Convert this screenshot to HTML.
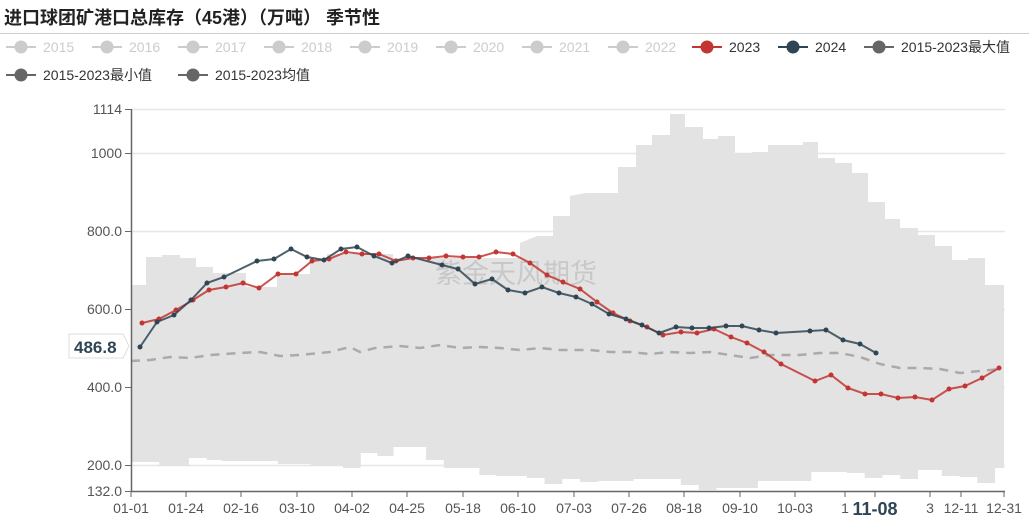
<!DOCTYPE html>
<html><head><meta charset="utf-8"><style>
body{margin:0;background:#fff;width:1029px;height:517px;overflow:hidden;font-family:"Liberation Sans","Noto Sans CJK SC",sans-serif}
</style></head><body>
<svg id="s" width="1029" height="517" xmlns="http://www.w3.org/2000/svg" style="position:absolute;left:0;top:0">
<text x="4" y="24" font-size="18" font-weight="bold" fill="#222" font-family="Liberation Sans, Noto Sans CJK SC, sans-serif">进口球团矿港口总库存（45港）（万吨） 季节性</text>
<line x1="0" y1="33.5" x2="1029" y2="33.5" stroke="#ccc"/>
<g id="leg" font-size="14" font-family="Liberation Sans, Noto Sans CJK SC, sans-serif"></g>
<g id="grid"></g>
<polygon id="band" fill="#e3e3e3"/>
<text x="435" y="283" font-size="27" fill="#c8c8c8" font-family="Liberation Sans, Noto Sans CJK SC, sans-serif">紫金天风期货</text>
<polyline id="mean" fill="none" stroke="#aaa" stroke-width="2.5" stroke-dasharray="9,7"/>
<g id="lines"></g>
<line x1="131.5" y1="109" x2="131.5" y2="491" stroke="#666" stroke-width="1.5"/>
<line x1="131" y1="491.5" x2="1005" y2="491.5" stroke="#666" stroke-width="1.5"/>
<g id="ax" font-size="14" fill="#555" font-family="Liberation Sans, sans-serif"></g>
<path d="M69,334 H123 L129,346 L123,358 H69 Z" fill="#fff" stroke="#ddd"/>
<text x="74" y="353" font-size="17" font-weight="bold" fill="#2f4554">486.8</text>
</svg>
<script>
const NS="http://www.w3.org/2000/svg";
function el(p,t,a,txt){const e=document.createElementNS(NS,t);for(const k in a)e.setAttribute(k,a[k]);if(txt)e.textContent=txt;p.appendChild(e);return e}
const g=document.getElementById('grid'),ax=document.getElementById('ax');
[[109,'1114'],[153,'1000'],[231,'800.0'],[309,'600.0'],[387,'400.0'],[465,'200.0'],[491,'132.0']].forEach(([y,t])=>{
 if(y<491)el(g,'line',{x1:131,y1:y+.5,x2:1005,y2:y+.5,stroke:'#e6e6e6','stroke-width':1.5});
 el(ax,'line',{x1:125,y1:y+.5,x2:131,y2:y+.5,stroke:'#666'});
 el(ax,'text',{x:122,y:y+5,'text-anchor':'end'},t);
});
const xl=['01-01','01-24','02-16','03-10','04-02','04-25','05-18','06-10','07-03','07-26','08-18','09-10','10-03','1','11-08','3','12-11','12-31'];
const xp=[131,186,241,297,352,407,463,518,574,629,684,740,795,845,875,930,961,1004];
xl.forEach((t,i)=>{
 el(ax,'line',{x1:xp[i],y1:491,x2:xp[i],y2:497,stroke:'#666'});
 if(t==='11-08')el(ax,'text',{x:875,y:515,'text-anchor':'middle','font-size':18,'font-weight':'bold',fill:'#2f4554'},t);
 else el(ax,'text',{x:xp[i],y:513,'text-anchor':'middle'},t);
});
const up=[[131,285],[146,285],[146,257],[162,257],[162,255],[180,255],[180,258],[196,258],[196,267],[213,267],[213,273],[246,273],[246,287],[277,287],[277,274],[310,274],[310,260],[327,260],[327,254],[393,254],[393,258],[520,258],[520,243],[537,236],[553,236],[553,216],[570,216],[570,196],[585,193],[618,193],[618,167],[636,167],[636,145],[652,145],[652,135],[670,135],[670,114],[685,114],[685,127],[703,127],[703,139],[718,139],[718,136],[735,136],[735,153],[752,153],[752,152],[768,152],[768,145],[803,145],[803,142],[818,142],[818,158],[835,158],[835,163],[852,163],[852,173],[868,173],[868,202],[885,202],[885,219],[900,219],[900,228],[918,228],[918,235],[935,235],[935,246],[952,246],[952,260],[968,260],[968,258],[985,258],[985,285],[1004,285],[1004,468]];
const lowZ=[[1525,468],[1510,483],[1480,477],[1450,476],[1420,470],[1380,479],[1350,475],[1320,478],[1290,473],[1260,472],[1200,481],[1150,481],[1110,488],[1040,490],[1010,485],[980,479],[900,481],[840,482],[810,479],[780,484],[750,478],[720,476],[668,475],[640,468],[580,460],[550,447],[495,456],[468,453],[440,468],[410,466],[355,464],[300,461],[205,460],[180,458],[150,466],[100,462],[0,468]];
let pts=up.map(p=>p.join(',')).join(' ');
let prev=null;
lowZ.forEach(([zx,y])=>{const x=Math.max(131,100+zx/1.687);if(prev!==null)pts+=' '+x+','+prev;pts+=' '+x+','+y;prev=y});
document.getElementById('band').setAttribute('points',pts);
document.getElementById('mean').setAttribute('points',[[131,361],[150,360],[170,357],[190,358],[210,355],[240,353],[260,352],[280,356],[300,355],[330,352],[350,347],[360,352],[375,348],[400,346],[420,348],[440,345],[460,348],[480,347],[500,348],[520,350],[540,348],[560,350],[590,350],[610,352],[630,352],[650,354],[670,352],[690,353],[710,352],[730,355],[750,358],[770,355],[800,355],[820,353],[840,353],[860,357],[880,364],[900,368],[920,368],[940,369],[960,373],[980,371],[1000,369]].map(p=>p.join(',')).join(' '));
const red=[[142,323],[159,319],[176,310],[193,300],[209,290],[226,287],[243,283],[259,288],[278,274],[296,274],[312,261],[329,259],[346,252],[362,254],[379,254],[396,261],[413,258],[429,258],[446,256],[463,257],[479,257],[496,252],[513,254],[530,263],[547,275],[563,282],[580,289],[597,302],[613,313],[630,321],[647,327],[663,335],[681,332],[697,333],[714,329],[731,337],[747,343],[764,352],[781,364],[815,381],[831,375],[848,388],[865,394],[881,394],[898,398],[915,397],[932,400],[949,389],[965,386],[982,378],[999,368]];
const dark=[[140,347],[157,322],[174,315],[191,300],[207,283],[224,277],[257,261],[274,259],[291,249],[307,257],[324,260],[341,249],[357,247],[374,256],[392,263],[408,256],[442,265],[458,269],[475,284],[492,279],[508,290],[525,293],[542,287],[559,293],[576,297],[592,304],[609,314],[626,319],[642,325],[659,333],[676,327],[692,328],[709,328],[726,326],[742,326],[759,330],[776,333],[810,331],[826,330],[843,340],[860,344],[876,353]];
const L=document.getElementById('lines');
[[red,'#c23531'],[dark,'#2f4554']].forEach(([d,c])=>{
 el(L,'polyline',{points:d.map(p=>p.join(',')).join(' '),fill:'none',stroke:c,'stroke-width':2,'stroke-opacity':.85});
 d.forEach(p=>el(L,'circle',{cx:p[0],cy:p[1],r:2.5,fill:c}));
});
const lg=document.getElementById('leg');
function item(x,y,c,tc,t){el(lg,'line',{x1:x,y1:y,x2:x+30,y2:y,stroke:c,'stroke-width':2});el(lg,'circle',{cx:x+15,cy:y,r:6.5,fill:c});el(lg,'text',{x:x+37,y:y+5,fill:tc},t)}
['2015','2016','2017','2018','2019','2020','2021','2022'].forEach((t,i)=>item(6+i*86,47,'#ccc','#ccc',t));
item(692,47,'#c23531','#333','2023');
item(778,47,'#2f4554','#333','2024');
item(864,47,'#666','#333','2015-2023最大值');
item(6,75,'#666','#333','2015-2023最小值');
item(178,75,'#666','#333','2015-2023均值');
</script>
</body></html>
